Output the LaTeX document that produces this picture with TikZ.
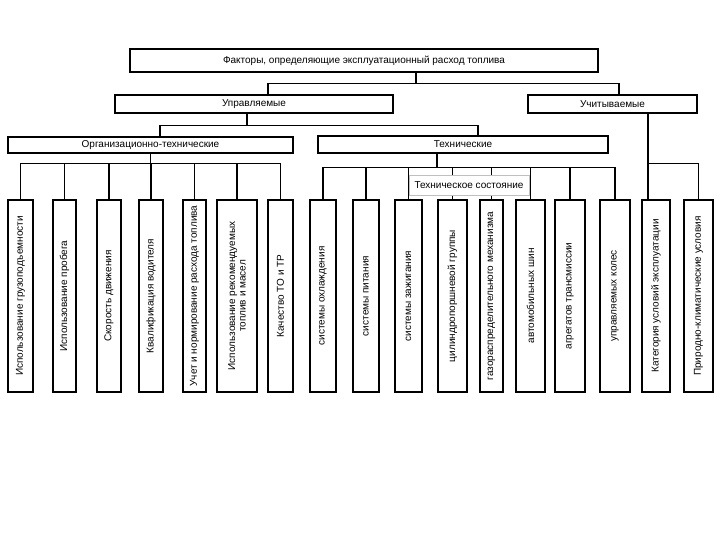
\documentclass[tikz,border=0pt]{standalone}
\usepackage{fontspec}
\setmainfont{Liberation Sans}
\begin{document}
\begin{tikzpicture}[x=1pt, y=-1pt,
	box/.style={draw, line width=1.2pt, inner sep=1pt, align=center, font=\fontsize{10}{10.5}\selectfont},
	vbox/.style={box, rotate=90, minimum width=192},
	wire/.style={line width=1.1pt}]
	\useasboundingbox (0,0) rectangle (720,540);
	% upper levels
	\node[box, minimum width=468, minimum height=23] (fact) at (364,60.5) {Факторы, определяющие эксплуатационный расход топлива};
	\node[box, minimum width=278, minimum height=18] (upr) at (254,104) {Управляемые};
	\node[box, minimum width=169, minimum height=18] (uch) at (612.5,104) {Учитываемые};
	\node[box, minimum width=285, minimum height=16] (org) at (150.5,145) {Организационно-технические};
	\node[box, minimum width=290, minimum height=17] (tech) at (463,144.5) {Технические};
	% vertical boxes (rotated: east is the top side)
	\foreach \n/\cx/\w/\txt in {
		b1/20.5/25/{Использование грузоподъемности},
		b2/64.5/23/{Использование пробега},
		b3/109/24/{Скорость движения},
		b4/151/24/{Квалификация водителя},
		b5/194.5/23/{Учет и нормирование расхода топлива},
		b6/237/40/{Использование рекомендуемых\\топлив и масел},
		b7/280.5/25/{Качество ТО и ТР},
		b8/323/26/{системы охлаждения},
		b9/366/26/{системы питания},
		b10/408.5/27/{системы зажигания},
		b11/452.5/29/{цилиндропоршневой группы},
		b12/491.5/23/{газораспределительного механизма},
		b13/530.5/29/{автомобильных шин},
		b14/570/30/{агрегатов трансмиссии},
		b15/615/30/{управляемых колес},
		b16/656/28/{Категория условий эксплуатации},
		b17/698.5/29/{Природно-климатические условия}}
		\node[vbox, minimum height=\w] (\n) at (\cx,296) {\txt};
	% connectors
	\draw[wire] ([xshift=52]fact.south) -- ++(0,11) -| ([xshift=14]upr.north);
	\draw[wire] ([xshift=52]fact.south) -- ++(0,11) -| ([xshift=6.5]uch.north);
	\draw[wire] ([xshift=-7]upr.south) -- ++(0,12) -| ([xshift=9.5]org.north);
	\draw[wire] ([xshift=-7]upr.south) -- ++(0,12) -| ([xshift=15]tech.north);
	\foreach \n in {b1,b2,b3,b4,b5,b6,b7}
		\draw[wire] (org.south) -- ++(0,10) -| (\n.east);
	\foreach \n in {b8,b9,b10,b11,b12,b13,b14,b15}
		\draw[wire] ([xshift=-26]tech.south) -- ++(0,14) -| (\n.east);
	\draw[wire] ([xshift=35.5]uch.south) coordinate (uchd) -- (uchd |- b16.east);
	\draw[wire] (uchd) -- ++(0,50) -| (b17.east);
	\node[box, draw=gray!50, line width=0.5pt, fill=white, minimum width=120, minimum height=20] (tsost) at (469,185) {Техническое состояние};
\end{tikzpicture}
\end{document}
